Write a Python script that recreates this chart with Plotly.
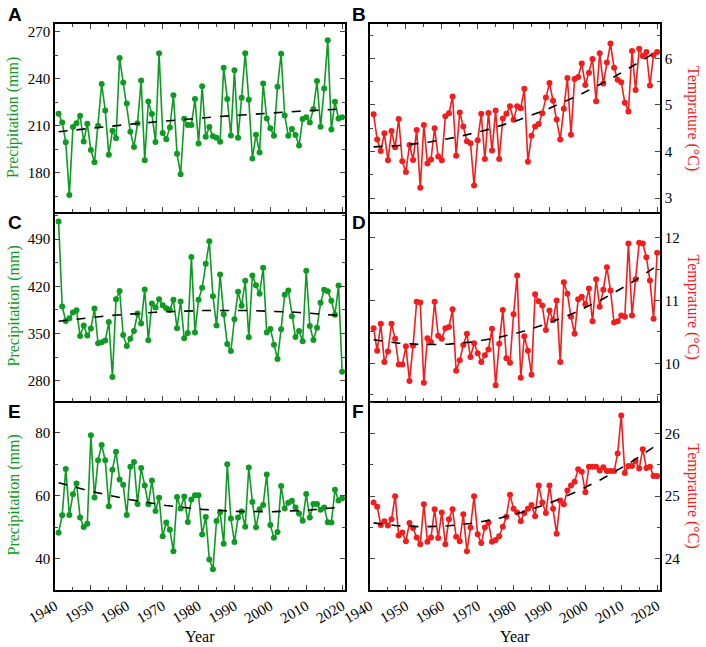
import numpy as np
import plotly.graph_objects as go

years = list(range(1941, 2021))

# panel A - precipitation (mm)
precip_a = [217.7, 212.2, 199.5, 165.8, 209.2, 211.7, 216.4, 200.0, 211.3, 194.6,
            186.7, 210.0, 236.7, 219.8, 191.6, 206.9, 202.0, 253.3, 237.6, 224.2,
            206.2, 196.5, 211.7, 238.9, 188.0, 225.5, 217.5, 199.7, 256.4, 205.4,
            201.4, 209.0, 229.5, 192.2, 179.1, 214.5, 210.5, 210.5, 227.2, 198.8,
            235.3, 203.1, 209.2, 203.3, 202.4, 199.9, 247.1, 227.2, 203.9, 245.4,
            202.4, 228.0, 256.4, 226.6, 189.1, 204.3, 192.9, 237.0, 214.7, 208.4,
            203.7, 235.0, 256.0, 216.6, 203.7, 207.9, 204.1, 197.5, 214.3, 215.5,
            212.2, 220.8, 238.6, 209.4, 233.8, 264.7, 207.7, 225.3, 214.7, 215.5]

# panel B - temperature (°C)
temp_b = [4.80, 4.26, 4.01, 4.39, 3.81, 4.44, 4.09, 4.70, 3.79, 3.56,
          4.14, 3.82, 4.46, 3.22, 4.57, 3.74, 3.83, 4.50, 3.89, 3.81,
          4.76, 4.82, 5.18, 3.91, 4.84, 4.54, 4.22, 4.18, 3.27, 4.24,
          4.81, 3.84, 4.83, 4.02, 4.88, 3.84, 4.71, 4.81, 4.97, 4.68,
          4.97, 4.93, 5.35, 3.78, 4.34, 4.54, 4.59, 4.82, 5.16, 5.47,
          5.09, 4.69, 4.26, 4.92, 5.58, 4.36, 5.56, 5.60, 5.89, 5.43,
          5.69, 5.99, 5.08, 6.11, 5.46, 5.91, 6.32, 5.80, 5.54, 5.49,
          5.05, 4.86, 6.16, 5.32, 6.21, 6.05, 6.14, 5.42, 6.07, 6.14]

# panel C - precipitation (mm)
precip_c = [515.8, 390.0, 368.7, 372.6, 381.0, 384.5, 346.4, 361.7, 346.9, 357.3,
            387.0, 335.5, 337.0, 339.5, 367.0, 285.5, 400.8, 413.0, 347.8, 331.5,
            342.4, 353.8, 379.6, 364.7, 415.2, 339.9, 394.4, 388.5, 400.8, 392.0,
            387.5, 385.0, 399.9, 357.8, 397.4, 342.9, 350.8, 463.3, 351.3, 399.9,
            417.7, 453.3, 486.5, 405.3, 361.7, 437.5, 378.6, 334.5, 324.1, 371.1,
            411.7, 391.0, 428.1, 344.4, 436.0, 421.6, 408.8, 447.4, 351.3, 356.8,
            333.5, 312.2, 356.3, 407.3, 413.7, 375.6, 344.9, 353.8, 338.4, 443.0,
            361.2, 340.4, 358.7, 395.4, 414.7, 412.7, 398.4, 377.6, 421.2, 293.4]

# panel D - temperature (°C)
temp_d = [10.56, 10.20, 10.63, 10.02, 10.19, 10.63, 10.39, 9.98, 9.98, 10.27,
          9.72, 10.28, 10.98, 10.97, 9.69, 10.40, 10.34, 10.98, 10.44, 10.39,
          10.56, 10.58, 10.86, 9.88, 10.05, 10.29, 10.47, 10.10, 10.32, 10.16,
          10.02, 10.13, 10.22, 10.55, 9.65, 10.31, 10.85, 10.08, 10.01, 10.78,
          11.40, 9.77, 10.43, 10.20, 9.82, 11.10, 10.99, 10.92, 10.53, 10.84,
          10.69, 11.00, 10.02, 11.29, 11.11, 10.74, 10.47, 11.02, 11.06, 10.94,
          11.19, 10.67, 11.34, 10.90, 11.17, 11.53, 11.16, 10.65, 10.67, 10.76,
          10.74, 11.91, 10.76, 11.34, 11.92, 11.91, 11.69, 11.32, 10.71, 11.76]

# panel E - precipitation (mm)
precip_e = [48.2, 53.7, 68.4, 53.8, 60.4, 63.8, 53.0, 50.0, 51.0, 79.1,
            59.4, 71.2, 76.0, 71.2, 56.6, 68.2, 73.9, 65.1, 63.4, 53.8,
            69.1, 70.6, 57.3, 68.7, 63.2, 57.2, 64.8, 55.1, 59.3, 47.1,
            51.4, 49.1, 42.3, 59.5, 55.9, 59.7, 51.6, 58.7, 60.1, 60.1,
            47.6, 53.2, 39.7, 36.6, 51.9, 54.7, 44.7, 69.9, 52.7, 45.2,
            53.0, 54.9, 50.1, 68.9, 57.9, 49.9, 55.6, 57.0, 66.7, 50.6,
            46.6, 48.4, 63.0, 55.9, 57.7, 58.3, 56.2, 54.3, 52.0, 60.5,
            53.0, 57.3, 57.3, 55.5, 56.2, 51.5, 51.4, 61.8, 58.4, 59.1]

# panel F - temperature (°C)
temp_f = [24.90, 24.83, 24.54, 24.60, 24.53, 24.63, 25.00, 24.37, 24.42, 24.28,
          24.57, 24.49, 24.34, 24.23, 24.87, 24.27, 24.34, 24.79, 24.33, 24.74,
          24.23, 24.63, 24.79, 24.35, 24.28, 24.71, 24.12, 24.50, 25.00, 24.39,
          24.25, 24.50, 24.58, 24.27, 24.30, 24.36, 24.51, 24.67, 25.02, 24.80,
          24.74, 24.60, 24.73, 24.80, 24.86, 24.68, 25.17, 24.90, 24.73, 25.17,
          24.80, 24.40, 24.93, 24.87, 25.09, 25.17, 25.23, 25.43, 25.39, 25.06,
          25.47, 25.47, 25.47, 25.41, 25.46, 25.40, 25.40, 25.40, 25.68, 26.29,
          25.37, 25.48, 25.48, 25.56, 25.44, 25.75, 25.45, 25.47, 25.32, 25.32]

GREEN = "#0f9a24"
RED = "#f21d1d"
SERIF = "Liberation Serif, Times New Roman, serif"

W, H = 706, 647
x_dom = [[55 / W, 345 / W], [370 / W, 660 / W]]
rows_px = [(24, 212), (212, 401), (401, 590)]
y_dom = [[1 - b / H, 1 - t / H] for t, b in rows_px]

# (values, column, row, letter, y range, y dtick)
panels = [
    (precip_a, 0, 0, "A", [155, 275], 30),
    (temp_b, 1, 0, "B", [2.7, 6.74], 1),
    (precip_c, 0, 1, "C", [250, 530], 70),
    (temp_d, 1, 1, "D", [9.4, 12.41], 1),
    (precip_e, 0, 2, "E", [30, 90], 20),
    (temp_f, 1, 2, "F", [23.5, 26.52], 1),
]

fig = go.Figure()
annotations = []

for i, (vals, col, row, letter, yr, dt) in enumerate(panels, start=1):
    color = GREEN if col == 0 else RED
    xa = "x" if i == 1 else "x%d" % i
    ya = "y" if i == 1 else "y%d" % i

    fig.add_trace(go.Scatter(x=years, y=vals, mode="lines+markers",
                             line=dict(color=color, width=1.6),
                             marker=dict(color=color, size=6),
                             xaxis=xa, yaxis=ya, showlegend=False))

    # quadratic trend
    coef = np.polyfit(years, vals, 2)
    trend = np.polyval(coef, years)
    fig.add_trace(go.Scatter(x=years, y=trend, mode="lines",
                             line=dict(color="black", width=1.6, dash="dash"),
                             xaxis=xa, yaxis=ya, showlegend=False))

    bottom = row == 2
    fig.layout["xaxis%d" % i] = dict(
        domain=x_dom[col], anchor=ya, range=[1940, 2020.8], automargin=False,
        tick0=1940, dtick=10, ticks="inside", ticklen=5, tickwidth=1.3,
        minor=dict(dtick=5, ticks="inside", ticklen=3, tickwidth=1.3),
        showline=True, linecolor="black", linewidth=1.5,
        mirror="ticks" if row == 0 else False,
        showgrid=False, zeroline=False,
        showticklabels=bottom, tickangle=-30,
        tickfont=dict(family=SERIF, size=15, color="black"),
    )
    fig.layout["yaxis%d" % i] = dict(
        domain=y_dom[row], anchor=xa, range=yr, automargin=False,
        tick0=0, dtick=dt, ticks="inside", ticklen=5, tickwidth=1.3,
        minor=dict(dtick=dt / 2, ticks="inside", ticklen=3, tickwidth=1.3),
        showline=True, linecolor="black", linewidth=1.5, mirror="ticks",
        showgrid=False, zeroline=False,
        side="left" if col == 0 else "right",
        tickfont=dict(family=SERIF, size=15, color="black"),
    )

    # panel letter
    top_px = 2 if row == 0 else rows_px[row][0] - 2
    annotations.append(dict(
        text="<b>%s</b>" % letter, xref="paper", yref="paper",
        x=(6 if col == 0 else 350) / W, y=1 - top_px / H,
        xanchor="left", yanchor="top", showarrow=False,
        font=dict(family="Liberation Sans, Arial, sans-serif", size=19, color="black")))

    # y title
    mid = 1 - (rows_px[row][0] + rows_px[row][1]) / 2 / H
    if col == 0:
        annotations.append(dict(
            text="Precipitation (mm)", xref="paper", yref="paper",
            x=13 / W, y=mid, textangle=-90, showarrow=False,
            xanchor="center", yanchor="middle",
            font=dict(family=SERIF, size=16, color=GREEN)))
    else:
        annotations.append(dict(
            text="Temprature (°C)", xref="paper", yref="paper",
            x=693 / W, y=mid, textangle=90, showarrow=False,
            xanchor="center", yanchor="middle",
            font=dict(family=SERIF, size=16, color=RED)))

    if bottom:
        annotations.append(dict(
            text="Year", xref="paper", yref="paper",
            x=(x_dom[col][0] + x_dom[col][1]) / 2, y=1 - 636 / H,
            xanchor="center", yanchor="middle",
            showarrow=False, font=dict(family=SERIF, size=16, color="black")))

fig.update_layout(width=W, height=H, margin=dict(l=0, r=0, t=0, b=0),
                  plot_bgcolor="white", paper_bgcolor="white",
                  annotations=annotations)

fig.write_html("out.html", config={"displayModeBar": False},
               post_script="document.body.style.margin='0';")
